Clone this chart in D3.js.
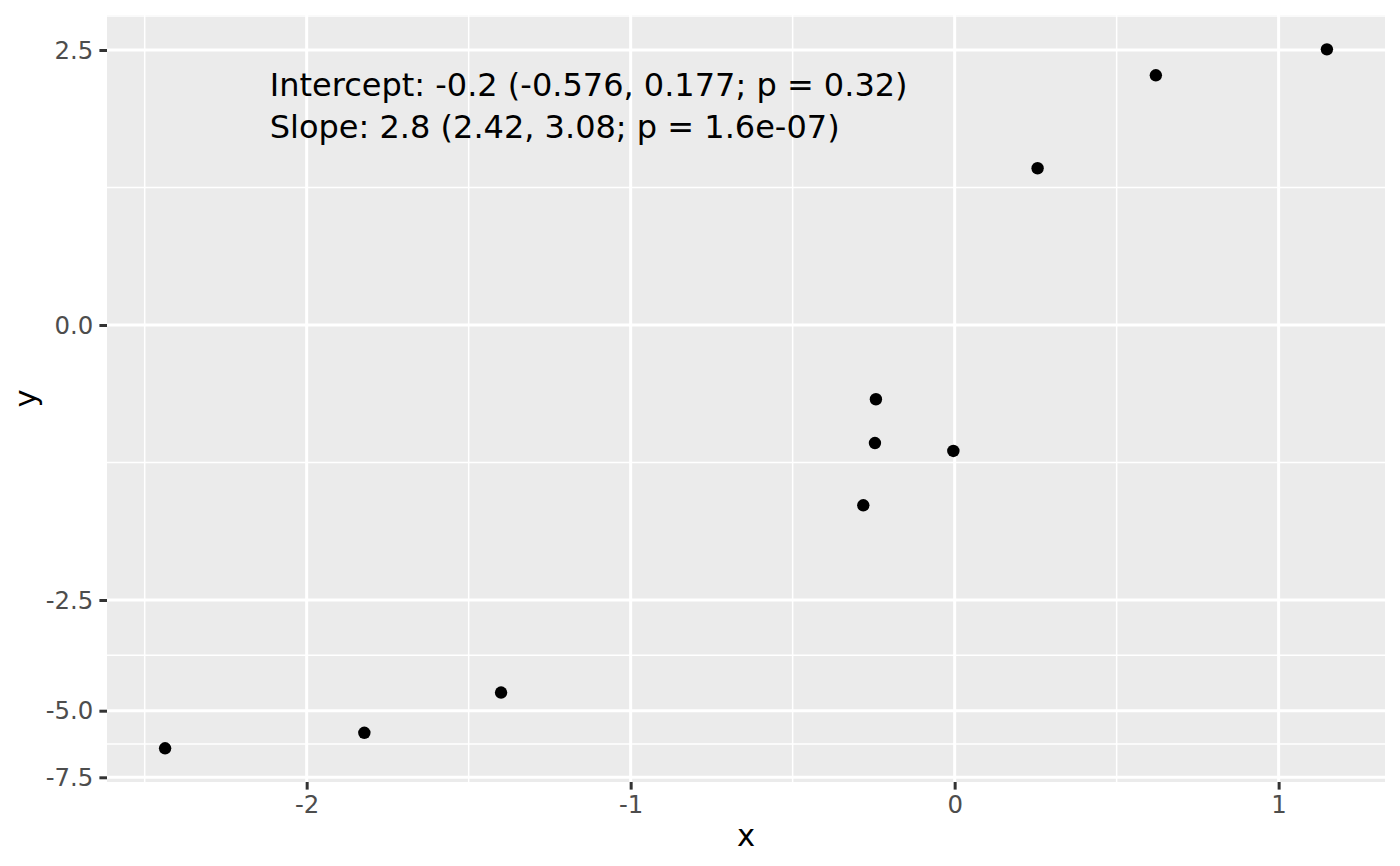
<!DOCTYPE html>
<html>
<head>
<meta charset="utf-8">
<script src="https://cdn.jsdelivr.net/npm/d3@7"></script>
<style>
  html, body { margin: 0; padding: 0; background: #ffffff; }
  svg { display: block; }
  text { font-family: "DejaVu Sans", sans-serif; }
</style>
</head>
<body>
<svg id="chart" width="1400" height="866"></svg>
<script>
// ---- data ----
const xValues = [-2.437, -1.822, -1.400, -0.282, -0.246, -0.243, -0.004, 0.256, 0.621, 1.149];
const yValues = [-6.41, -5.83, -4.59, -1.639, -1.073, -0.675, -1.145, 1.425, 2.270, 2.506];

const xTicks = [-2, -1, 0, 1];
const xTickLabels = ["-2", "-1", "0", "1"];
const xMinor = [-2.5, -1.5, -0.5, 0.5];

const yTicks = [-7.5, -5.0, -2.5, 0.0, 2.5];
const yTickLabels = ["-7.5", "-5.0", "-2.5", "0.0", "2.5"];
const yMinor = [-6.25, -3.75, -1.25, 1.25, 2.81];

const annotationLines = [
  "Intercept: -0.2 (-0.576, 0.177; p = 0.32)",
  "Slope: 2.8 (2.42, 3.08; p = 1.6e-07)"
];
const annotationX = -2.114;
const annotationY = 2.08;

const xTitle = "x";
const yTitle = "y";

// ---- layout ----
const W = 1400, H = 866;
const panel = { left: 107, top: 15, right: 1385, bottom: 782 };
const pH = panel.bottom - panel.top;
// the y axis is warped (non-linear below -2.5): tick positions as fractions of panel height
const yWarp = [762.3 / pH, 695.7 / pH, 585 / pH, 310 / pH, 35 / pH];

const svg = d3.select("#chart");

// x scale: data extent with 5% expansion
const xe = d3.extent(xValues);
const xPad = (xe[1] - xe[0]) * 0.05;
const x = d3.scaleLinear().domain([xe[0] - xPad, xe[1] + xPad]).range([panel.left, panel.right]);

// y scale: piecewise linear through the tick positions
const y = d3.scaleLinear().domain(yTicks).range(yWarp.map(f => panel.top + f * pH));

// panel background
svg.append("rect")
  .attr("x", panel.left).attr("y", panel.top)
  .attr("width", panel.right - panel.left).attr("height", pH)
  .attr("fill", "#EBEBEB");

svg.append("clipPath").attr("id", "clip").append("rect")
  .attr("x", panel.left).attr("y", panel.top)
  .attr("width", panel.right - panel.left).attr("height", pH);

const grid = svg.append("g").attr("clip-path", "url(#clip)");

// minor grid
grid.selectAll(".xminor").data(xMinor).join("line")
  .attr("x1", d => x(d)).attr("x2", d => x(d))
  .attr("y1", panel.top).attr("y2", panel.bottom)
  .attr("stroke", "#ffffff").attr("stroke-width", 1.5);
grid.selectAll(".yminor").data(yMinor).join("line")
  .attr("y1", d => y(d)).attr("y2", d => y(d))
  .attr("x1", panel.left).attr("x2", panel.right)
  .attr("stroke", "#ffffff").attr("stroke-width", 1.5);

// major grid
grid.selectAll(".xmajor").data(xTicks).join("line")
  .attr("x1", d => x(d)).attr("x2", d => x(d))
  .attr("y1", panel.top).attr("y2", panel.bottom)
  .attr("stroke", "#ffffff").attr("stroke-width", 3);
grid.selectAll(".ymajor").data(yTicks).join("line")
  .attr("y1", d => y(d)).attr("y2", d => y(d))
  .attr("x1", panel.left).attr("x2", panel.right)
  .attr("stroke", "#ffffff").attr("stroke-width", 3);

// points
const pts = xValues.map((v, i) => ({ x: v, y: yValues[i] }));
grid.selectAll(".pt").data(pts).join("circle")
  .attr("cx", d => x(d.x)).attr("cy", d => y(d.y))
  .attr("r", 6.2).attr("fill", "#000000");

// annotation
const ann = svg.append("text")
  .attr("x", x(annotationX)).attr("y", y(annotationY))
  .attr("font-size", "32px").attr("fill", "#000000");
annotationLines.forEach((l, i) => {
  ann.append("tspan").attr("x", x(annotationX)).attr("dy", i === 0 ? 0 : "1.31em").text(l);
});

// axes
const tickLen = 7.6, tickPad = 6.1;
const xAxis = d3.axisBottom(x).tickValues(xTicks)
  .tickFormat((d, i) => xTickLabels[i]).tickSize(tickLen).tickPadding(tickPad);
const yAxis = d3.axisLeft(y).tickValues(yTicks)
  .tickFormat((d, i) => yTickLabels[i]).tickSize(tickLen).tickPadding(tickPad);

const gx = svg.append("g").attr("transform", `translate(0,${panel.bottom})`).call(xAxis);
const gy = svg.append("g").attr("transform", `translate(${panel.left},0)`).call(yAxis);
[gx, gy].forEach(g => {
  g.select(".domain").remove();
  g.selectAll(".tick line").attr("stroke", "#333333").attr("stroke-width", 3);
  g.selectAll(".tick text").attr("fill", "#4D4D4D")
    .style("font-family", "'DejaVu Sans', sans-serif").style("font-size", "24.4px");
});
gy.selectAll(".tick text").attr("dy", "0.34em");

// axis titles
svg.append("text")
  .attr("x", (panel.left + panel.right) / 2).attr("y", 846)
  .attr("text-anchor", "middle").attr("font-size", "30.6px").attr("fill", "#000000")
  .text(xTitle);
svg.append("text")
  .attr("transform", `translate(36,${(panel.top + panel.bottom) / 2}) rotate(-90)`)
  .attr("text-anchor", "middle").attr("font-size", "30.6px").attr("fill", "#000000")
  .text(yTitle);
</script>
</body>
</html>
